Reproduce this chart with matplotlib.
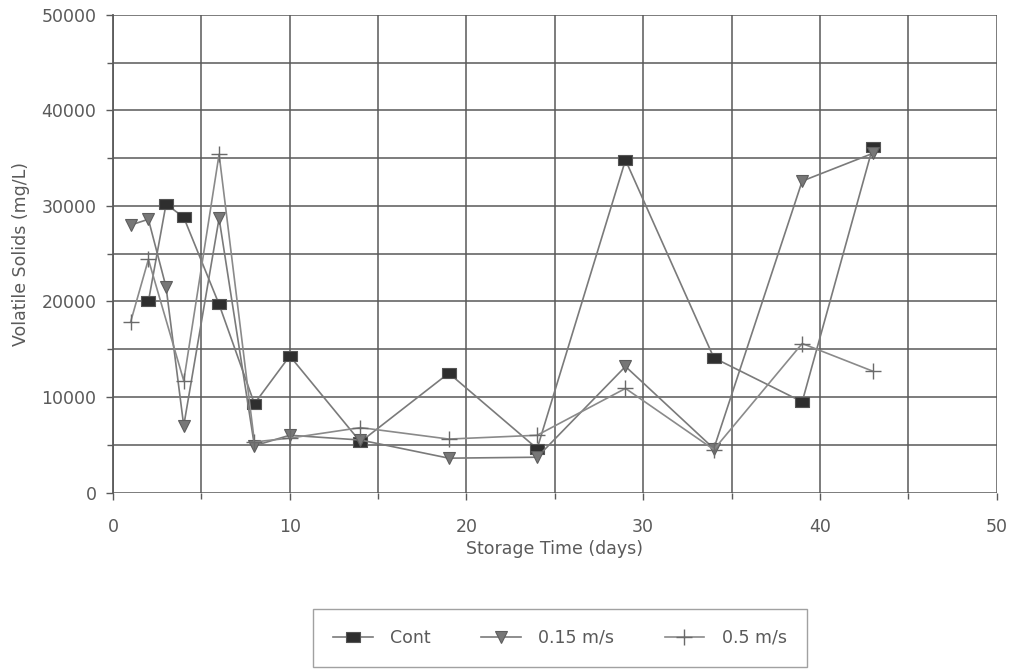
import matplotlib
matplotlib.use("Agg")
import matplotlib.pyplot as plt
from matplotlib.ticker import MultipleLocator

# Storage time (days) and volatile solids (mg/L) for each aeration condition
days_cont = [2, 3, 4, 6, 8, 10, 14, 19, 24, 29, 34, 39, 43]
vs_cont = [20000, 30200, 28800, 19700, 9300, 14300, 5300, 12500, 4600, 34800, 14100, 9500, 36200]

days_015 = [1, 2, 3, 4, 6, 8, 10, 14, 19, 24, 29, 34, 39, 43]
vs_015 = [28000, 28600, 21500, 7000, 28700, 4900, 6000, 5500, 3600, 3700, 13200, 4600, 32600, 35500]

days_05 = [1, 2, 4, 6, 8, 10, 14, 19, 24, 29, 34, 39, 43]
vs_05 = [17900, 24400, 11700, 35400, 5300, 5700, 6800, 5600, 6000, 10900, 4500, 15600, 12700]

series_labels = ["Cont", "0.15 m/s", "0.5 m/s"]

plt.rcParams["font.family"] = ["DejaVu Sans"]

fig = plt.figure(figsize=(10.14, 6.72), dpi=100)
ax = fig.add_axes([0.1115, 0.267, 0.8713, 0.711])

line_col = "#7a7a7a"
mark_col = "#2e2e2e"
grid_col = "#5a5a5a"
text_col = "#5a5a5a"
fs = 12.5

# slightly wide box marker for the control series
wide_box = [(-1.35, -1.0), (1.35, -1.0), (1.35, 1.0), (-1.35, 1.0), (-1.35, -1.0)]

ax.plot(days_cont, vs_cont, color=line_col, lw=1.2, marker=wide_box, ms=10,
        mfc=mark_col, mec="#555555", mew=0.8, label=series_labels[0], zorder=3)
ax.plot(days_015, vs_015, color=line_col, lw=1.2, marker="v", ms=9,
        mfc="#777777", mec="#5e5e5e", mew=0.8, label=series_labels[1], zorder=3)
ax.plot(days_05, vs_05, color="#8a8a8a", lw=1.2, marker="+", ms=11,
        mew=1.0, mec="#6a6a6a", label=series_labels[2], zorder=3)

ax.set_xlim(0, 50)
ax.set_ylim(0, 50000)
ax.xaxis.set_major_locator(MultipleLocator(10))
ax.xaxis.set_minor_locator(MultipleLocator(5))
ax.yaxis.set_major_locator(MultipleLocator(10000))
ax.yaxis.set_minor_locator(MultipleLocator(5000))

ax.grid(True, which="both", color=grid_col, lw=1.3, alpha=0.85)
ax.set_axisbelow(True)

for side in ["top", "right", "bottom"]:
    ax.spines[side].set_visible(False)
ax.spines["left"].set_color(grid_col)
ax.spines["left"].set_linewidth(1.3)

ax.tick_params(axis="both", which="both", direction="out", color=grid_col,
               labelcolor=text_col, labelsize=fs)
ax.tick_params(axis="both", which="major", length=5, width=1.0)
ax.tick_params(axis="both", which="minor", length=4, width=1.0)
ax.tick_params(axis="x", which="major", pad=13)
ax.tick_params(axis="y", which="major", pad=7)

ax.set_xlabel("Storage Time (days)", color=text_col, fontsize=fs, labelpad=3)
ax.set_ylabel("Volatile Solids (mg/L)", color=text_col, fontsize=fs, labelpad=8)

leg = fig.legend(loc="center", bbox_to_anchor=(0.552, 0.0506), ncol=3,
                 frameon=True, fancybox=False, fontsize=fs, handlelength=2.3,
                 columnspacing=2.9, borderpad=1.15, handletextpad=1.0,
                 edgecolor="#8a8a8a")
leg.get_frame().set_linewidth(1.0)
for t in leg.get_texts():
    t.set_color(text_col)

fig.savefig("out.png", dpi=100)
